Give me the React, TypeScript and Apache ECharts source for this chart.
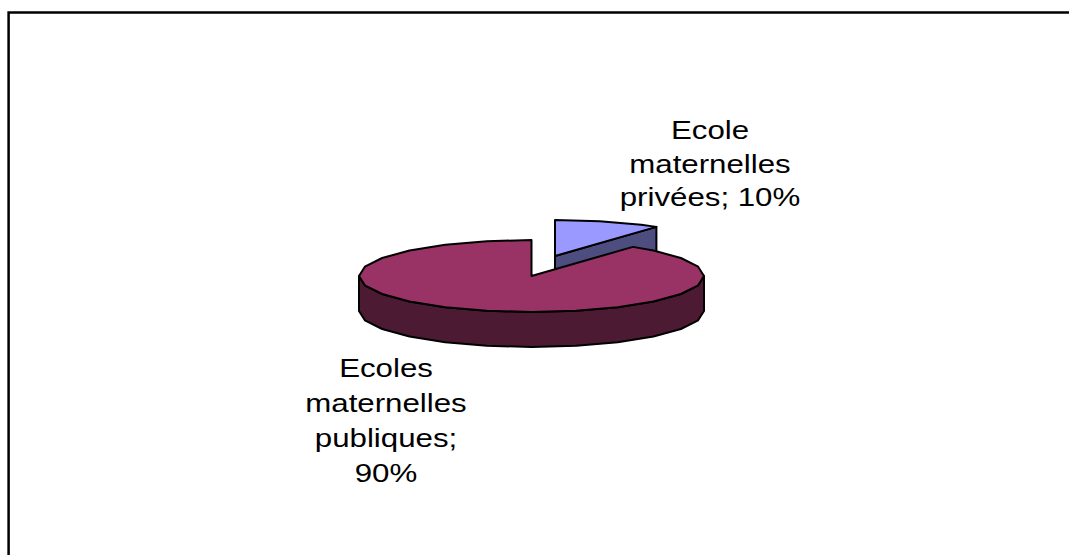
import React, { useEffect, useRef } from "react";
import * as echarts from "echarts";

const categories = ["Ecole maternelles privées", "Ecoles maternelles publiques"];
const values = [10, 90];
const labelLines = [
  ["Ecole", "maternelles", "privées; 10%"],
  ["Ecoles", "maternelles", "publiques;", "90%"],
];
const topColors = ["#9999FF", "#993366"];
const sideColors = ["#4D4D80", "#4D1A33"];

const CX = 531.5, CY = 276, RX = 172.5, RY = 36, DEPTH = 35, STEP = 15;
const offsets = [[23.5, -20], [0, 0]];
const labelPos = [[710, 164], [386, 420.5]];
const labelLineHeights = [33.5, 35];
const TEXT_STRETCH = 1.25;

const total = values.reduce((a, b) => a + b, 0);

function pt(ox: number, oy: number, deg: number, drop = 0): number[] {
  const a = (deg * Math.PI) / 180;
  return [ox + RX * Math.sin(a), oy - RY * Math.cos(a) + drop];
}

function arc(ox: number, oy: number, from: number, to: number, drop = 0): number[][] {
  const pts: number[][] = [];
  const first = Math.ceil(from / STEP) * STEP;
  pts.push(pt(ox, oy, from, drop));
  for (let d = first; d < to; d += STEP) if (d > from) pts.push(pt(ox, oy, d, drop));
  pts.push(pt(ox, oy, to, drop));
  return pts;
}

const outline = { stroke: "#000", lineWidth: 2, lineJoin: "round" as const };

function renderItem(params: any, api: any) {
  const i = params.dataIndex;
  const before = values.slice(0, i).reduce((a, b) => a + b, 0);
  const start = (before / total) * 360;
  const end = start + (api.value(1) / total) * 360;
  const ox = CX + offsets[i][0];
  const oy = CY + offsets[i][1];
  const children: any[] = [];

  // Cut face of the slice whose trailing edge faces the viewer
  if (start < 90 && end < 90) {
    const p = pt(ox, oy, end);
    children.push({
      type: "polygon",
      shape: { points: [[ox, oy], p, [p[0], p[1] + DEPTH], [ox, oy + DEPTH]] },
      style: { fill: sideColors[i], ...outline },
    });
  }
  // Rim of the slice on the front half of the ellipse
  const rimFrom = Math.max(start, 90);
  const rimTo = Math.min(end, 270);
  if (rimFrom < rimTo) {
    const upper = arc(ox, oy, rimFrom, rimTo);
    const lower = arc(ox, oy, rimFrom, rimTo, DEPTH).reverse();
    children.push({
      type: "polygon",
      shape: { points: [...upper, ...lower] },
      style: { fill: sideColors[i], ...outline },
    });
  }
  children.push({
    type: "polygon",
    shape: { points: [[ox, oy], ...arc(ox, oy, start, end)] },
    style: { fill: topColors[i], ...outline },
  });
  return { type: "group", children };
}

function labelItem(params: any) {
  const i = params.dataIndex;
  return {
    type: "text",
    x: labelPos[i][0],
    y: labelPos[i][1],
    scaleX: TEXT_STRETCH,
    style: {
      text: labelLines[i].join("\n"),
      fill: "#000",
      font: '25px "Liberation Sans", Arial, sans-serif',
      lineHeight: labelLineHeights[i],
      align: "center",
      verticalAlign: "middle",
    },
  };
}

export default function App() {
  const ref = useRef<HTMLDivElement>(null);
  useEffect(() => {
    const chart = echarts.init(ref.current!, undefined, { renderer: "svg" });
    chart.setOption({
      animation: false,
      backgroundColor: "#fff",
      graphic: [
        {
          type: "rect",
          shape: { x: 8.6, y: 12.5, width: 1300, height: 800 },
          style: { fill: "none", stroke: "#000", lineWidth: 2.5 },
        },
      ],
      series: [
        {
          type: "custom",
          coordinateSystem: "none",
          renderItem,
          data: categories.map((c, i) => [c, values[i]]),
        },
        {
          type: "custom",
          coordinateSystem: "none",
          renderItem: labelItem,
          data: categories.map((c, i) => [c, values[i]]),
        },
      ],
    });
    return () => chart.dispose();
  }, []);
  return (
    <div
      ref={ref}
      style={{ position: "absolute", left: 0, top: 0, width: 1069, height: 555 }}
    />
  );
}
